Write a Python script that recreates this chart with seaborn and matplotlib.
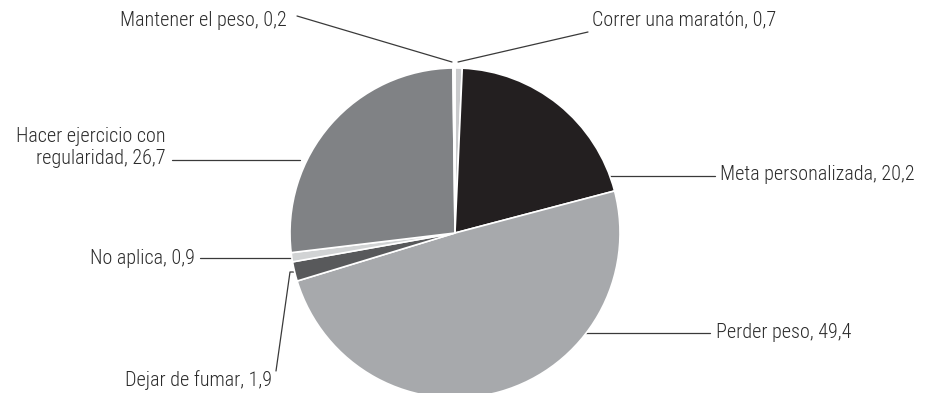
import matplotlib
matplotlib.use("Agg")
import matplotlib.pyplot as plt
import seaborn as sns

# ── Data ─────────────────────────────────────────────────────────────────────
categories = [
    "Correr una maratón",
    "Meta personalizada",
    "Perder peso",
    "Dejar de fumar",
    "No aplica",
    "Hacer ejercicio con\nregularidad",
    "Mantener el peso",
]
values = [0.7, 20.2, 49.4, 1.9, 0.9, 26.7, 0.2]
colors = ["#c9cacc", "#231f20", "#a7a9ac", "#58595b", "#d1d3d4", "#808285", "#ffffff"]

# ── Label layout (x, y, ha) and leader lines, pixel coords with y up ─────────
label_pos = [
    (592, 373, "left"),
    (720, 218, "left"),
    (716, 60, "left"),
    (272, 13, "right"),
    (195, 135, "right"),
    (166, 245, "right"),
    (287, 373, "right"),
]
leaders = [
    [(588, 361), (458, 331)],
    [(715, 217), (575, 217)],
    [(710, 60), (575, 60)],
    [(276, 22), (290, 121), (297, 121)],
    [(200, 135), (291, 135)],
    [(172, 233), (300, 233)],
    [(297, 377), (452, 331)],
]

sns.set_theme(style="white")
plt.rcParams["font.family"] = ["Roboto Condensed", "DejaVu Sans"]

fig = plt.figure(figsize=(9.28, 3.93), dpi=100)
ax = fig.add_axes([0, 0, 1, 1])

ax.pie(values, colors=colors, startangle=90, counterclock=False,
       center=(455, 160), radius=165,
       wedgeprops=dict(edgecolor="white", linewidth=1.2))
ax.set_xlim(0, 928)
ax.set_ylim(0, 393)
ax.set_aspect("equal")
ax.axis("off")

for cat, v, (x, y, ha), pts in zip(categories, values, label_pos, leaders):
    txt = f"{cat}, {v:.1f}".replace(".", ",")
    ax.text(x, y, txt, ha=ha, va="center", fontsize=14.5, color="#2b2b2b",
            linespacing=1.2, fontweight="light")
    xs, ys = zip(*pts)
    # leader lines sit behind the wedges so they stop at the pie edge
    ax.plot(xs, ys, color="#3a3a3a", lw=0.9, zorder=0.5)

fig.savefig("out.png", dpi=100)
